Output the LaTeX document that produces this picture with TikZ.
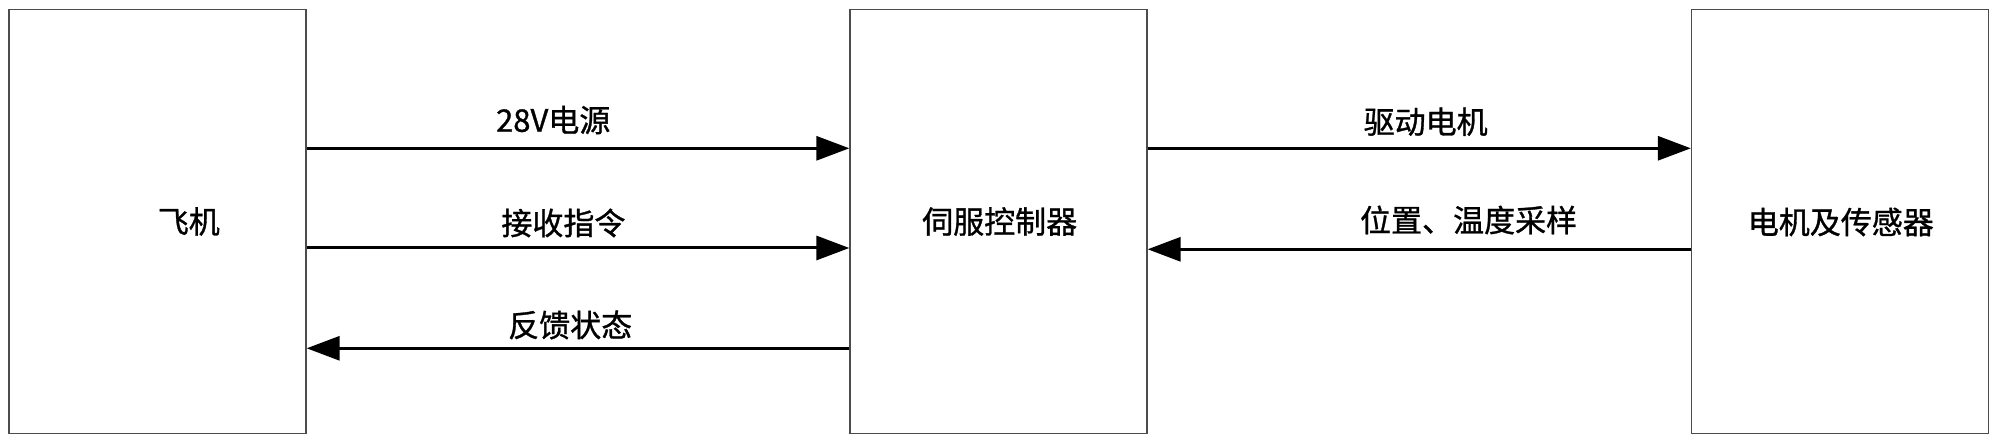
\documentclass[tikz,border=0pt]{standalone}
\usepackage{fontspec}
\newfontfamily\cjk[FakeBold=1]{Noto Sans CJK SC}
\usetikzlibrary{arrows.meta}
\begin{document}
\begin{tikzpicture}[x=0.5pt,y=0.5pt,
  blockbox/.style={draw=black!70,line width=0.65pt,minimum width=148.5pt,minimum height=212pt,inner sep=0pt},
  boxtext/.style={font=\cjk\fontsize{15.5}{18}\selectfont,inner sep=0pt},
  lbltext/.style={font=\cjk\fontsize{15.5}{18}\selectfont,inner sep=0pt},
  arr/.style={line width=1.5pt,-{Triangle[length=16.5pt,width=12pt]}}]
\useasboundingbox (0,0) rectangle (1999,443);
\node[blockbox] (a) at (157.5,221.5) {};
\node[blockbox] (b) at (998.5,221.5) {};
\node[blockbox] (c) at (1840,221.5) {};
\node[boxtext] (ta) at (188.8,221.5) {飞机};
\node[boxtext] (tb) at (999.7,221.5) {伺服控制器};
\node[boxtext] (tc) at (1840.8,221) {电机及传感器};
\coordinate (r1) at (0,294.7);
\coordinate (r2) at (0,195);
\coordinate (r3) at (0,94.7);
\coordinate (s2) at (0,193.7);
\draw[arr] (a.east |- r1) -- (b.west |- r1);
\draw[arr] (a.east |- r2) -- (b.west |- r2);
\draw[arr] (b.west |- r3) -- (a.east |- r3);
\draw[arr] (b.east |- r1) -- (c.west |- r1);
\draw[arr] (c.west |- s2) -- (b.east |- s2);
\node[lbltext] (l1) at (553.2,323) {28V电源};
\node[lbltext] (l2) at (563.4,220) {接收指令};
\node[lbltext] (l3) at (570.2,118) {反馈状态};
\node[lbltext] (l4) at (1425.7,321.3) {驱动电机};
\node[lbltext] (l5) at (1468.6,223) {位置、温度采样};
\end{tikzpicture}
\end{document}
